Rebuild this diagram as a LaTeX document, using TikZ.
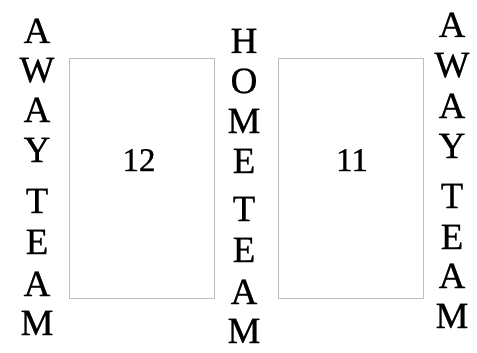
\documentclass[tikz,border=0pt]{standalone}
\usepackage{fontspec}
\setmainfont{Liberation Serif}
\newfontfamily\heavyserif[FakeBold=0.6]{Liberation Serif}
\begin{document}
\begin{tikzpicture}[x=1pt,y=-1pt,
  letter/.style={anchor=base,inner sep=0pt,font=\heavyserif\fontsize{37}{37}\selectfont},
  num/.style={anchor=base,inner sep=0pt,font=\heavyserif\fontsize{33}{33}\selectfont},
  court/.style={draw=black!25,line width=1pt}]
\useasboundingbox (0,0) rectangle (477,353);
% boxes
\draw[court] (69,58.5) rectangle (214,298.5);
\draw[court] (278,58.5) rectangle (423,298.5);
\node[num] (n12) at (139,171) {12};
\node[num] (n11) at (352,171) {11};
% left AWAY TEAM
\node[letter] (l1) at (37,43) {A};
\node[letter] (l2) at (37,82) {W};
\node[letter] (l3) at (37,122) {A};
\node[letter] (l4) at (37,162) {Y};
\node[letter] (l5) at (37,213) {T};
\node[letter] (l6) at (37,254) {E};
\node[letter] (l7) at (37,296) {A};
\node[letter] (l8) at (37,335) {M};
% middle HOME TEAM
\node[letter] (m1) at (244,53) {H};
\node[letter] (m2) at (244,93) {O};
\node[letter] (m3) at (244,133) {M};
\node[letter] (m4) at (244,173) {E};
\node[letter] (m5) at (244,221) {T};
\node[letter] (m6) at (244,262) {E};
\node[letter] (m7) at (244,304) {A};
\node[letter] (m8) at (244,343) {M};
% right AWAY TEAM
\node[letter] (r1) at (452,37) {A};
\node[letter] (r2) at (452,77) {W};
\node[letter] (r3) at (452,118) {A};
\node[letter] (r4) at (452,158) {Y};
\node[letter] (r5) at (452,208) {T};
\node[letter] (r6) at (452,249) {E};
\node[letter] (r7) at (452,288) {A};
\node[letter] (r8) at (452,328) {M};
\end{tikzpicture}
\end{document}
